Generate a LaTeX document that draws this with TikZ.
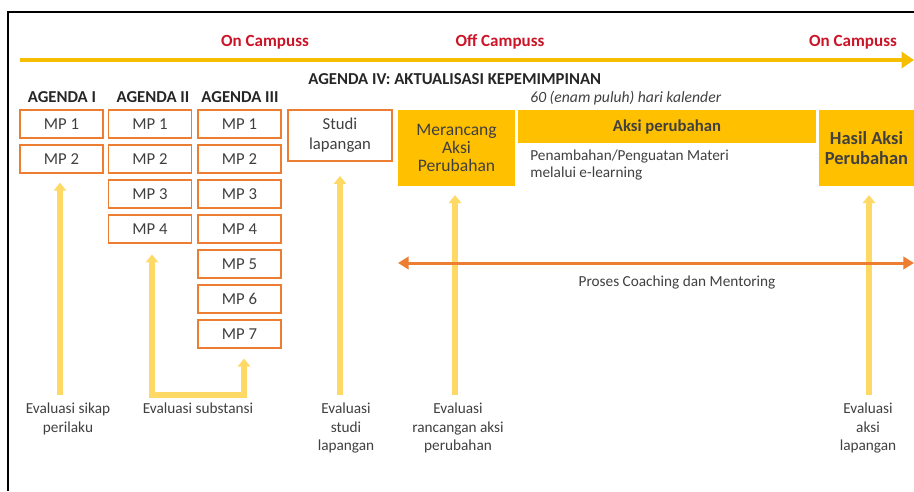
\documentclass[tikz,border=0pt]{standalone}
\usepackage{fontspec}
\setmainfont{Carlito}
\usetikzlibrary{arrows.meta}
\definecolor{gold}{RGB}{245,190,0}
\definecolor{amber}{RGB}{255,192,0}
\definecolor{paleyellow}{RGB}{255,217,102}
\definecolor{rust}{RGB}{237,125,49}
\definecolor{campusred}{RGB}{204,20,40}
\definecolor{ink}{RGB}{64,64,64}
\tikzset{
  campus/.style={font=\fontsize{9.7}{11}\selectfont\bfseries,text=campusred},
  head/.style={font=\fontsize{9.5}{11}\selectfont\bfseries,text=black!85},
  mpbox/.style={draw=rust,line width=1.1pt,fill=white,minimum width=1.66cm,minimum height=0.56cm,
    inner sep=0pt,align=center,font=\fontsize{9.5}{11.4}\selectfont,text=ink},
  actbox/.style={fill=amber,minimum height=1.52cm,inner sep=0pt,align=center,
    font=\fontsize{10}{10.3}\selectfont,text=black!75},
  note/.style={font=\fontsize{8.7}{9.5}\selectfont,text=ink,inner sep=0pt},
  evalarrow/.style={draw=paleyellow,line width=3.4pt,-{Triangle[length=4.5pt,width=7pt]}},
  evallabel/.style={note,align=center,anchor=north,font=\fontsize{8.7}{10.4}\selectfont},
}
\begin{document}
\begin{tikzpicture}[x=0.02cm,y=-0.02cm]
        \useasboundingbox (0,0) rectangle (914,491);
        \draw[line width=0.8pt] (8,491) -- (8,12) -- (914,12);
        \coordinate (tl-start) at (20,60);
        \coordinate (tl-end) at (914,60);
        \draw[gold,line width=2.3pt,-{Triangle[length=7pt,width=9pt]}] (tl-start) -- (tl-end);
        \foreach \l/\x[count=\i] in {On Campuss/265, Off Campuss/500, On Campuss/853}
        {\node[campus] (camp-\i) at (\x,42) {\l};}
        \foreach \l/\x[count=\i] in {AGENDA I/62, AGENDA II/153, AGENDA III/240}
        {\node[head] (agenda-\i) at (\x,97) {\l};}
        \node[head,anchor=west,inner sep=0pt] (agenda-4) at (308,79) {AGENDA IV: AKTUALISASI KEPEMIMPINAN};
        \foreach \c/\x/\n in {1/61.5/2, 2/150/4, 3/239.5/7}
        {\foreach \k in {1,...,\n}
          {\node[mpbox] (mp-\c-\k) at (\x,{124+35*(\k-1)}) {MP \k};}}
        \node[mpbox,minimum width=2.08cm,minimum height=1.02cm] (studi) at (340,135.5) {Studi\\lapangan};
        \node[actbox,minimum width=2.34cm] (rancang) at (456.5,148) {Merancang\\Aksi\\Perubahan};
        \node[actbox,minimum width=5.96cm,minimum height=0.66cm,font=\fontsize{9.5}{10.3}\selectfont\bfseries] (aksi) at (667,126.5) {Aksi perubahan};
        \node[actbox,minimum width=1.9cm,font=\fontsize{10.5}{11}\selectfont\bfseries] (hasil) at (866.5,148) {Hasil Aksi\\Perubahan};
        \node[note,anchor=west,font=\fontsize{8.9}{9.5}\selectfont\itshape] (kalender) at (530,98) {60 (enam puluh) hari kalender};
        \node[note,anchor=north west,align=left] (materi) at (530,150) {Penambahan/Penguatan Materi\\melalui e-learning};
        \foreach \n/\x/\t/\g in {sikap/60/mp-1-2/5pt, studi/340/studi/8pt, rancang/455/rancang/5pt, aksi/869/hasil/5pt}
        {\coordinate (ev-\n) at (\x,395);
         \draw[evalarrow,shorten >=\g] (ev-\n) -- (\t.south -| ev-\n);}
        \coordinate (ev-sub-l) at (152,395);
        \coordinate (ev-sub-r) at (244,395);
        \draw[evalarrow,{Triangle[length=4.5pt,width=7pt]}-{Triangle[length=4.5pt,width=7pt]},shorten <=6pt,shorten >=5.5pt]
          (mp-2-4.south -| ev-sub-l) -- (ev-sub-l) -- (ev-sub-r) -- (mp-3-7.south -| ev-sub-r);
        \coordinate (coach-l) at (398,263);
        \coordinate (coach-r) at (914,263);
        \draw[rust,line width=1.7pt,{Triangle[length=6pt,width=7pt]}-{Triangle[length=6pt,width=7pt]}] (coach-l) -- (coach-r);
        \node[note] (coach) at (677,283) {Proses Coaching dan Mentoring};
        \foreach \l/\x[count=\i] in
            { Evaluasi sikap\\perilaku/68
            , Evaluasi substansi/198
            , Evaluasi\\studi\\lapangan/346
            , Evaluasi\\rancangan aksi\\perubahan/458
            , Evaluasi\\aksi\\lapangan/868
            }
        {\node[evallabel] (label-\i) at (\x,403) {\l};}
\end{tikzpicture}
\end{document}
